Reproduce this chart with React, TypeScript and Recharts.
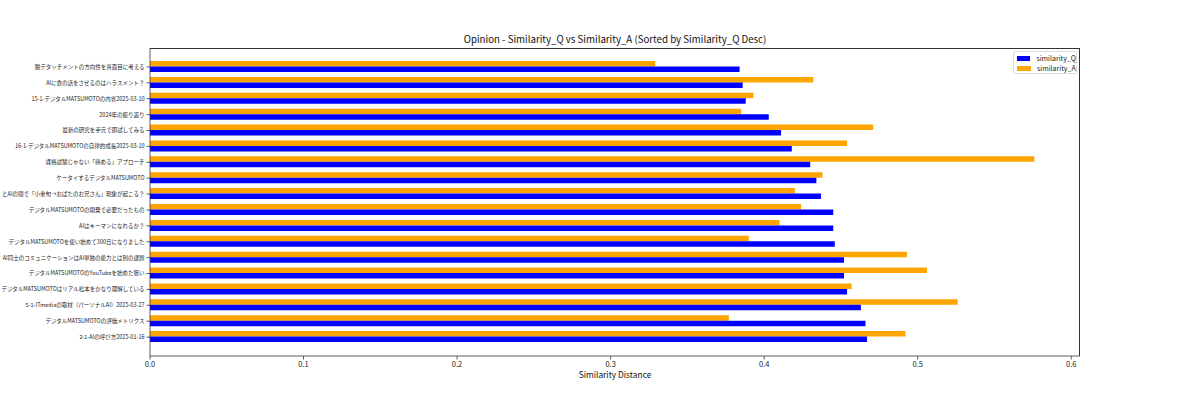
import React from "react";
import { BarChart, Bar, XAxis, YAxis } from "recharts";

const categories = [
  "脱デタッチメントの方向性を真面目に考える",
  "AIに食の話をさせるのはハラスメント？",
  "15-1-デジタルMATSUMOTOの内省2025-03-10",
  "2024年の振り返り",
  "最新の研究を手元で即試してみる",
  "16-1-デジタルMATSUMOTOの自律的成長2025-03-10",
  "資格試験じゃない「極める」アプローチ",
  "ケータイするデジタルMATSUMOTO",
  "とAIの間で「小重旬→おばたのお兄さん」現象が起こる？",
  "デジタルMATSUMOTOの開発で必要だったもの",
  "AIはキーマンになれるか？",
  "デジタルMATSUMOTOを使い始めて300日になりました",
  "AI同士のコミュニケーションはAI単独の能力とは別の課題",
  "デジタルMATSUMOTOのYouTubeを始めた狙い",
  "デジタルMATSUMOTOはリアル松本をかなり理解している",
  "5-1-ITmediaの取材（パーソナルAI）2025-03-27",
  "デジタルMATSUMOTOの評価メトリクス",
  "2-1-AIの呼び方2025-01-16",
];

const similarityQ = [
  0.384, 0.386, 0.388, 0.403, 0.411, 0.418, 0.430, 0.434, 0.437,
  0.445, 0.445, 0.446, 0.452, 0.452, 0.454, 0.463, 0.466, 0.467,
];

const similarityA = [
  0.329, 0.432, 0.393, 0.385, 0.471, 0.454, 0.576, 0.438, 0.420,
  0.424, 0.410, 0.390, 0.493, 0.506, 0.457, 0.526, 0.377, 0.492,
];

const xTicks = [0, 0.1, 0.2, 0.3, 0.4, 0.5, 0.6];

const data = categories.map((name, i) => ({
  name,
  similarity_Q: similarityQ[i],
  similarity_A: similarityA[i],
}));

const FONT = "'Noto Sans CJK JP', 'Noto Sans', sans-serif";

export default function App() {
  return (
    <div
      style={{
        position: "absolute",
        left: 0,
        top: 0,
        width: 1200,
        height: 400,
        background: "#fff",
        fontFamily: FONT,
      }}
    >
      <BarChart
        width={1200}
        height={400}
        data={data}
        layout="vertical"
        margin={{ top: 48, right: 120, bottom: 14, left: 0 }}
        barGap={0}
      >
        <XAxis
          type="number"
          domain={[0, 0.6057]}
          ticks={xTicks}
          tickFormatter={(v: number) => v.toFixed(1)}
          height={30}
          axisLine={{ stroke: "#333", strokeWidth: 0.8 }}
          tickLine={{ stroke: "#333", strokeWidth: 0.8 }}
          tickSize={3.5}
          tick={{ fontSize: 7.5, fill: "#222", fontFamily: FONT }}
          allowDataOverflow
        />
        <YAxis
          type="category"
          dataKey="name"
          width={150}
          interval={0}
          padding={{ top: 11, bottom: 11 }}
          axisLine={{ stroke: "#333", strokeWidth: 0.8 }}
          tickLine={{ stroke: "#333", strokeWidth: 0.8 }}
          tickSize={3.5}
          tick={{ fontSize: 5.5, fill: "#222", fontFamily: FONT }}
        />
        <Bar dataKey="similarity_A" fill="#ffa500" barSize={5.5} isAnimationActive={false} />
        <Bar dataKey="similarity_Q" fill="#0000ff" barSize={5.5} isAnimationActive={false} />
      </BarChart>
      {/* top & right spines */}
      <div
        style={{
          position: "absolute",
          left: 150,
          top: 48,
          width: 930,
          height: 308,
          borderTop: "0.8px solid #333",
          borderRight: "0.8px solid #333",
          boxSizing: "border-box",
          pointerEvents: "none",
        }}
      />
      <div
        style={{
          position: "absolute",
          left: 150,
          width: 930,
          top: 33,
          textAlign: "center",
          fontSize: 9.7,
          lineHeight: "13px",
          color: "#111",
        }}
      >
        Opinion - Similarity_Q vs Similarity_A (Sorted by Similarity_Q Desc)
      </div>
      <div
        style={{
          position: "absolute",
          left: 150,
          width: 930,
          top: 369,
          textAlign: "center",
          fontSize: 8.4,
          lineHeight: "11px",
          color: "#111",
        }}
      >
        Similarity Distance
      </div>
      {/* legend */}
      <div
        style={{
          position: "absolute",
          left: 1013,
          top: 51,
          width: 64,
          height: 23,
          border: "0.8px solid #ddd",
          borderRadius: 2,
          boxSizing: "border-box",
          background: "rgba(255,255,255,0.8)",
          fontSize: 7,
          color: "#222",
          padding: "2px 0 0 3px",
        }}
      >
        {[
          { label: "similarity_Q", color: "#0000ff" },
          { label: "similarity_A", color: "#ffa500" },
        ].map((e) => (
          <div key={e.label} style={{ display: "flex", alignItems: "center", height: 9.5 }}>
            <span style={{ display: "inline-block", width: 14, height: 5, background: e.color, marginRight: 6 }} />
            <span style={{ lineHeight: "9px" }}>{e.label}</span>
          </div>
        ))}
      </div>
    </div>
  );
}
